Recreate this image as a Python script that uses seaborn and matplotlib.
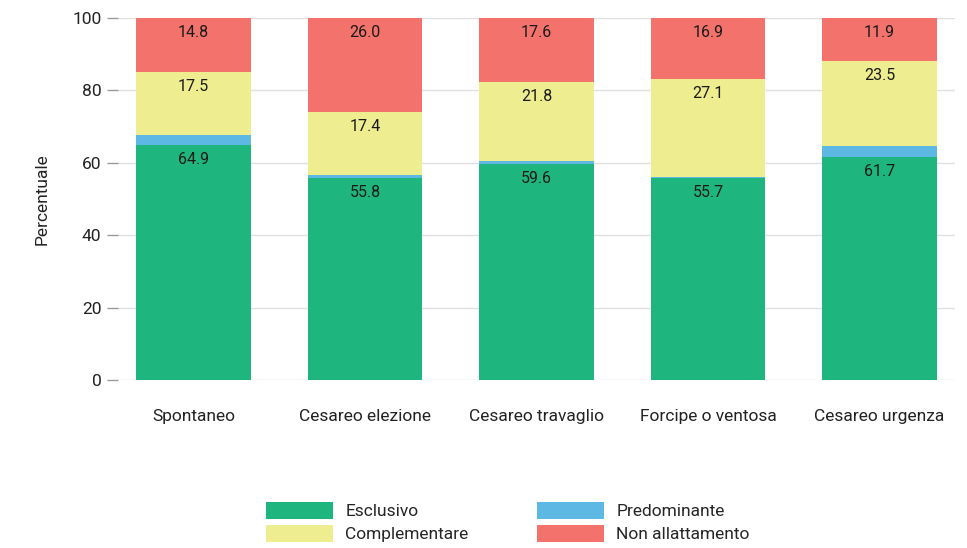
import matplotlib
matplotlib.use("Agg")
import matplotlib.pyplot as plt
import matplotlib.patches as mpatches
import seaborn as sns
import pandas as pd
import numpy as np

categories = ["Spontaneo", "Cesareo elezione", "Cesareo travaglio", "Forcipe o ventosa", "Cesareo urgenza"]
esclusivo = [64.9, 55.8, 59.6, 55.7, 61.7]
predominante = [2.8, 0.8, 1.0, 0.3, 2.9]
complementare = [17.5, 17.4, 21.8, 27.1, 23.5]
non_allattamento = [14.8, 26.0, 17.6, 16.9, 11.9]

series_names = ["Esclusivo", "Predominante", "Complementare", "Non allattamento"]
series_values = [esclusivo, predominante, complementare, non_allattamento]
colors = ["#1fb57e", "#5eb8e4", "#eeed8f", "#f3736c"]
labelled = [True, False, True, True]

sns.set_theme(style="white")
plt.rcParams["font.family"] = ["Roboto", "DejaVu Sans"]

fig = plt.figure(figsize=(9.67, 5.48), dpi=100)
ax = fig.add_axes([118 / 967, 1 - 380 / 548, (955 - 118) / 967, (380 - 18) / 548])

# stacked bars: draw cumulative totals from the top layer down
vals = np.array(series_values)
cum = np.cumsum(vals, axis=0)
for i in range(len(series_names) - 1, -1, -1):
    df = pd.DataFrame({"cat": categories, "val": cum[i]})
    sns.barplot(data=df, x="cat", y="val", color=colors[i], width=0.67,
                saturation=1, ax=ax, edgecolor="none", zorder=2)

# value labels near the top of each labelled segment
for i, name in enumerate(series_names):
    if not labelled[i]:
        continue
    for j in range(len(categories)):
        ax.annotate(f"{vals[i][j]:.1f}", xy=(j, cum[i][j]), xytext=(0, -10.5),
                    textcoords="offset points", ha="center", va="center",
                    fontsize=11.5, color="#1a1a1a", zorder=3)

ax.set_ylim(0, 100)
ax.set_xlim(-0.44, 4.44)
ax.set_yticks([0, 20, 40, 60, 80, 100])
ax.yaxis.grid(True, color="#e0e0e0", linewidth=1, zorder=0)
ax.xaxis.grid(False)
ax.set_axisbelow(True)
for s in ax.spines.values():
    s.set_visible(False)
ax.tick_params(axis="y", left=True, length=8, width=1, color="#9a9a9a",
               labelsize=12.5, labelcolor="#222222", pad=4)
ax.tick_params(axis="x", bottom=False, labelsize=12.5, labelcolor="#222222", pad=15)
ax.set_xlabel("")
ax.set_ylabel("Percentuale", fontsize=12.5, color="#222222", labelpad=16)

handles = [mpatches.Patch(facecolor=colors[i], edgecolor="none", label=series_names[i])
           for i in [0, 2, 1, 3]]
fig.legend(handles=handles, ncol=2, loc="center", bbox_to_anchor=(508 / 967, 1 - 522 / 548),
           frameon=False, fontsize=12.5, handlelength=3.85, handleheight=1.2,
           handletextpad=0.7, labelspacing=0.3, columnspacing=3.95, borderpad=0)

fig.savefig("out.png", dpi=100)
